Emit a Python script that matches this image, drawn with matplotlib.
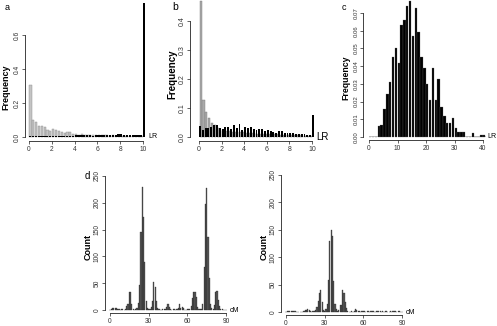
import numpy as np
import matplotlib
matplotlib.use('Agg')
import matplotlib.pyplot as plt

W, H = 497, 326

# panel a: LR histograms (bins of 0.25)
a_grey = [0.304, 0.100, 0.090, 0.063, 0.067, 0.057, 0.043, 0.037, 0.049, 0.043,
          0.033, 0.027, 0.023, 0.029, 0.031, 0.020, 0.016, 0.014, 0.015, 0.013,
          0.012, 0.012, 0.010, 0.011, 0.010, 0.009, 0.010, 0.009, 0.008, 0.009,
          0.008, 0.007, 0.008, 0.007, 0.007, 0.006, 0.006, 0.006, 0.005, 0.005]
a_black = [0.004, 0.003, 0.004, 0.004, 0.005, 0.004, 0.005, 0.005, 0.006, 0.005,
           0.006, 0.006, 0.007, 0.006, 0.007, 0.008, 0.010, 0.012, 0.011, 0.010,
           0.009, 0.010, 0.008, 0.009, 0.011, 0.012, 0.010, 0.009, 0.010, 0.011,
           0.012, 0.015, 0.016, 0.012, 0.011, 0.010, 0.009, 0.012, 0.010, 0.011,
           0.790]

# panel b
b_grey = [0.468, 0.129, 0.087, 0.066, 0.048, 0.040, 0.031, 0.025, 0.022, 0.020,
          0.020, 0.018, 0.018, 0.017, 0.016, 0.016, 0.015, 0.014, 0.014, 0.013,
          0.012, 0.012, 0.011, 0.011, 0.010, 0.010, 0.009, 0.009, 0.008, 0.008,
          0.008, 0.007, 0.007, 0.006, 0.006, 0.006, 0.005, 0.005, 0.005, 0.004]
b_black = [0.037, 0.025, 0.030, 0.030, 0.035, 0.040, 0.040, 0.030, 0.028, 0.035,
           0.035, 0.028, 0.040, 0.032, 0.044, 0.025, 0.033, 0.032, 0.036, 0.028,
           0.025, 0.027, 0.027, 0.022, 0.025, 0.022, 0.018, 0.014, 0.020, 0.020,
           0.013, 0.015, 0.014, 0.014, 0.012, 0.010, 0.010, 0.010, 0.008, 0.006,
           0.075]

# panel c (bins of 1, 0..40)
c_black = [0, 0, 0, 0.006, 0.007, 0.016, 0.024, 0.031, 0.045, 0.050,
           0.042, 0.063, 0.066, 0.074, 0.077, 0.057, 0.073, 0.059, 0.045, 0.039,
           0.030, 0.021, 0.039, 0.021, 0.033, 0.017, 0.012, 0.008, 0.008, 0.011,
           0.005, 0.003, 0.003, 0.003, 0, 0, 0.002, 0, 0, 0.001, 0.001]
c_grey = [0.0008, 0.0008, 0.0008, 0.0008, 0.0008, 0.0008, 0, 0, 0, 0,
          0, 0, 0, 0, 0, 0, 0, 0, 0, 0,
          0, 0, 0, 0, 0, 0, 0, 0, 0, 0,
          0, 0, 0, 0.0008, 0.0008, 0.0008, 0.0008, 0.0008, 0.0008, 0.0008, 0.0008]

# panel d: counts per cM (0..90)
d_left = [0, 2, 4, 3, 4, 3, 2, 1, 0, 1,
          1, 0, 1, 7, 11, 34, 34, 11, 2, 0,
          1, 4, 13, 47, 146, 229, 174, 90, 16, 3,
          1, 2, 6, 17, 52, 43, 16, 4, 1, 0,
          0, 1, 2, 2, 6, 11, 6, 2, 0, 1,
          2, 0, 1, 3, 11, 4, 6, 3, 0, 0,
          1, 1, 2, 7, 22, 33, 34, 24, 5, 1,
          2, 1, 12, 80, 197, 227, 136, 59, 12, 3,
          1, 9, 33, 35, 18, 7, 2, 1, 0, 0, 0]
d_right = [0, 1, 1, 1, 1, 1, 1, 1, 0, 0,
           0, 0, 0, 0, 1, 3, 4, 5, 3, 1,
           0, 1, 1, 3, 9, 20, 34, 40, 18, 4,
           1, 6, 14, 58, 130, 149, 139, 57, 15, 5,
           2, 4, 13, 13, 41, 34, 19, 7, 2, 0,
           0, 1, 0, 1, 6, 4, 2, 1, 0, 1,
           1, 1, 0, 1, 1, 0, 1, 1, 1, 0,
           1, 1, 1, 1, 0, 1, 0, 1, 1, 0,
           0, 1, 0, 1, 1, 1, 0, 1, 1, 0, 0]

fig = plt.figure(figsize=(W / 100, H / 100), dpi=100)
plt.rcParams['font.family'] = ['Liberation Sans', 'DejaVu Sans']


def place(px_x, val_x, px_y, val_y, box, fs=4.8):
    # box = left, top, right, bottom in pixels
    sx = (px_x[1] - px_x[0]) / (val_x[1] - val_x[0])
    sy = (px_y[0] - px_y[1]) / (val_y[1] - val_y[0])
    xlim = (val_x[0] + (box[0] - px_x[0]) / sx, val_x[0] + (box[2] - px_x[0]) / sx)
    ylim = (val_y[0] - (box[3] - px_y[0]) / sy, val_y[0] + (px_y[0] - box[1]) / sy)
    ax = fig.add_axes([box[0] / W, 1 - box[3] / H,
                       (box[2] - box[0]) / W, (box[3] - box[1]) / H])
    ax.set_xlim(xlim)
    ax.set_ylim(ylim)
    ax.patch.set_alpha(0)
    for s in ['top', 'right']:
        ax.spines[s].set_visible(False)
    for s in ['left', 'bottom']:
        ax.spines[s].set_linewidth(0.6)
        ax.spines[s].set_color('#222222')
    ax.tick_params(length=2.2, width=0.5, labelsize=fs, pad=1.2,
                   colors='#222222', labelcolor='#333333')
    return ax


def r_axes(ax, xt, yt, yfmt):
    ax.set_xticks(xt)
    ax.set_yticks(yt)
    ax.set_yticklabels([yfmt.format(v) for v in yt], rotation=90, va='center')
    ax.spines['bottom'].set_bounds(xt[0], xt[-1])
    ax.spines['left'].set_bounds(yt[0], yt[-1])


lab = dict(fontweight='bold', rotation=90, ha='center', va='center')

# ---- a ----
ax = place((29, 143), (0, 10), (137, 35), (0, 0.6), (25, 0, 165, 141))
xa = np.arange(len(a_grey)) * 0.25
ax.bar(xa + 0.03, a_grey, width=0.19, align='edge', color='#c4c4c4',
       edgecolor='#8a8a8a', linewidth=0.3)
xb = np.arange(len(a_black)) * 0.25
ax.bar(xb, a_black, width=0.2, align='edge', color='black', linewidth=0,
       clip_on=False)
r_axes(ax, [0, 2, 4, 6, 8, 10], [0, 0.2, 0.4, 0.6], '{:.1f}')
ax.text(10.45, 0, 'LR', fontsize=5, va='center', ha='left', clip_on=False)
fig.text(5 / W, 1 - 8 / H, 'a', fontsize=6.5, ha='left', va='center')
fig.text(6 / W, 1 - 87 / H, 'Frequency', fontsize=6.5, **lab)

# ---- b ----
ax = place((199, 312), (0, 10), (137, 21), (0, 0.4), (190, 0, 330, 141), fs=5.0)
ax.tick_params(axis='y', pad=0.8)
xa = np.arange(len(b_grey)) * 0.25
ax.bar(xa + 0.05, b_grey, width=0.19, align='edge', color='#a9a9a9',
       edgecolor='#7a7a7a', linewidth=0.3)
xb = np.arange(len(b_black)) * 0.25
ax.bar(xb, b_black, width=0.17, align='edge', color='black', linewidth=0,
       clip_on=False)
r_axes(ax, [0, 2, 4, 6, 8, 10], [0, 0.1, 0.2, 0.3, 0.4], '{:.1f}')
ax.text(10.35, 0, 'LR', fontsize=7, va='center', ha='left', clip_on=False)
fig.text(172 / W, 1 - 7 / H, 'b', fontsize=7.5, ha='left', va='center')
fig.text(172 / W, 1 - 74 / H, 'Frequency', fontsize=7, **lab)

# ---- c ----
ax = place((369, 483), (0, 40), (137, 13), (0, 0.07), (363, 0, 497, 140))
xc = np.arange(len(c_black))
ax.bar(xc, c_grey, width=1, align='edge', color='#c4c4c4', linewidth=0)
ax.bar(xc, c_black, width=0.85, align='edge', color='black',
       edgecolor='#666666', linewidth=0.2)
r_axes(ax, [0, 10, 20, 30, 40], [0, 0.01, 0.02, 0.03, 0.04, 0.05, 0.06, 0.07], '{:.2f}')
ax.tick_params(axis='y', labelsize=4.3)
ax.text(41.6, 0, 'LR', fontsize=5, va='center', ha='left', clip_on=False)
fig.text(342 / W, 1 - 8 / H, 'c', fontsize=6.5, ha='left', va='center')
fig.text(346 / W, 1 - 78 / H, 'Frequency', fontsize=6.3, **lab)

# ---- d (left) ----
ax = place((110, 226), (0, 90), (310, 176), (0, 250), (105, 170, 245, 313))
xd = np.arange(len(d_left))
ax.bar(xd, d_left, width=0.9, color='#585858', edgecolor='#1a1a1a', linewidth=0.2)
r_axes(ax, [0, 30, 60, 90], [0, 50, 100, 150, 200, 250], '{:d}')
ax.text(93, 0, 'cM', fontsize=5, va='center', ha='left', clip_on=False)
fig.text(85 / W, 1 - 176 / H, 'd', fontsize=7, ha='left', va='center')
fig.text(88 / W, 1 - 247 / H, 'Count', fontsize=6.5, **lab)

# ---- d (right) ----
ax = place((286, 402), (0, 90), (312, 175), (0, 250), (281, 170, 425, 315))
xe = np.arange(len(d_right))
ax.bar(xe, d_right, width=0.9, color='#585858', edgecolor='#1a1a1a', linewidth=0.2)
r_axes(ax, [0, 30, 60, 90], [0, 50, 100, 150, 200, 250], '{:d}')
ax.text(93, 0, 'cM', fontsize=5, va='center', ha='left', clip_on=False)
fig.text(264 / W, 1 - 247 / H, 'Count', fontsize=6.5, **lab)

fig.savefig('out.png', dpi=100)
